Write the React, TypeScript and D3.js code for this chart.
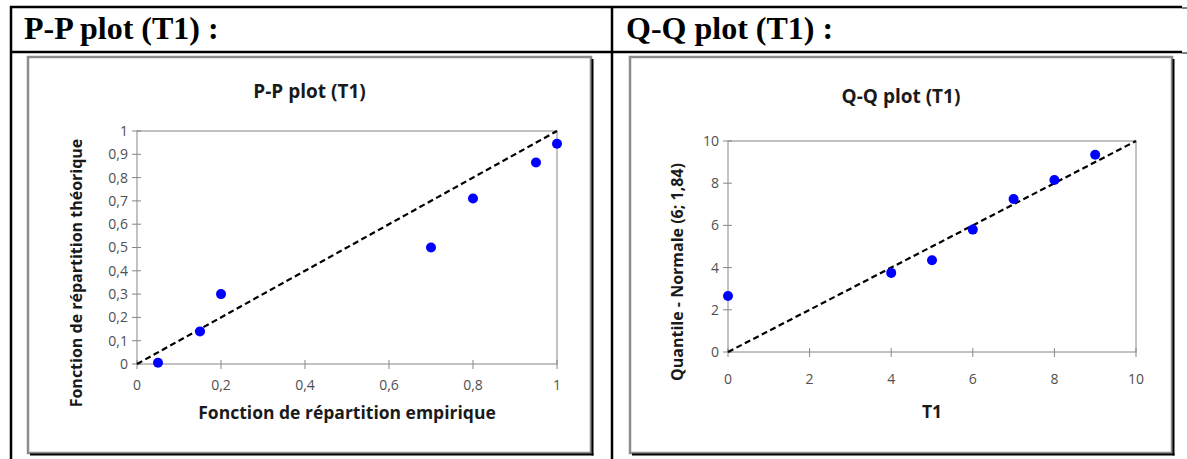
import * as d3 from "d3";
import React from "react";

// P-P plot: empirical vs theoretical cdf
const ppEmpirical = [0.05, 0.15, 0.2, 0.7, 0.8, 0.95, 1.0];
const ppTheoretical = [0.005, 0.14, 0.3, 0.5, 0.71, 0.865, 0.945];
const ppXTicks = [0, 0.2, 0.4, 0.6, 0.8, 1];
const ppYTicks = [0, 0.1, 0.2, 0.3, 0.4, 0.5, 0.6, 0.7, 0.8, 0.9, 1];

// Q-Q plot: T1 vs quantile of Normal(6; 1,84)
const qqObserved = [0, 4, 5, 6, 7, 8, 9];
const qqNormal = [2.65, 3.75, 4.35, 5.8, 7.25, 8.15, 9.35];
const qqXTicks = [0, 2, 4, 6, 8, 10];
const qqYTicks = [0, 2, 4, 6, 8, 10];

const W = 1187;
const H = 459;
const chartFont = "'Open Sans', 'Noto Sans', sans-serif";
const axisGray = "#868686";
const fmt = (v: number) => String(v).replace(".", ",");

interface PanelProps {
  frame: { x: number; y: number; w: number; h: number };
  plot: { left: number; right: number; top: number; bottom: number };
  title: string;
  titleY: number;
  xTitle: string;
  yTitle: string;
  yTitleX: number;
  yTitleY: number;
  xLabelY: number;
  xTitleY: number;
  domain: [number, number];
  xTicks: number[];
  yTicks: number[];
  xs: number[];
  ys: number[];
}

const Panel: React.FC<PanelProps> = (p) => {
  const x = d3.scaleLinear().domain(p.domain).range([p.plot.left, p.plot.right]);
  const y = d3.scaleLinear().domain(p.domain).range([p.plot.bottom, p.plot.top]);
  const line = d3.line<number>().x((d) => x(d)).y((d) => y(d));
  const cx = (p.plot.left + p.plot.right) / 2;
  const f = p.frame;

  return (
    <g>
      {/* chart frame with shadow */}
      <rect x={f.x} y={f.y} width={f.w} height={f.h} fill="#fff" stroke="#8c8c8c" strokeWidth={2.5} />
      <line x1={f.x + f.w + 1.5} y1={f.y + 2} x2={f.x + f.w + 1.5} y2={f.y + f.h + 2.5} stroke="#000" strokeWidth={2} />
      <line x1={f.x + 2} y1={f.y + f.h + 1.5} x2={f.x + f.w + 2.5} y2={f.y + f.h + 1.5} stroke="#000" strokeWidth={2} />

      <text x={f.x + f.w / 2} y={p.titleY} textAnchor="middle" fontFamily={chartFont} fontWeight="bold" fontSize={19} fill="#1a1a1a">
        {p.title}
      </text>

      {/* plot area border */}
      <rect x={p.plot.left} y={p.plot.top} width={p.plot.right - p.plot.left} height={p.plot.bottom - p.plot.top} fill="none" stroke={axisGray} strokeWidth={1} />

      {p.yTicks.map((t) => (
        <g key={"y" + t}>
          <line x1={p.plot.left - 5} x2={p.plot.left + 4} y1={y(t)} y2={y(t)} stroke={axisGray} />
          <text x={p.plot.left - 9} y={y(t)} dy="0.35em" textAnchor="end" fontFamily={chartFont} fontSize={14} fill="#505050">
            {fmt(t)}
          </text>
        </g>
      ))}
      {p.xTicks.map((t) => (
        <g key={"x" + t}>
          <line x1={x(t)} x2={x(t)} y1={p.plot.bottom - 4} y2={p.plot.bottom + 5} stroke={axisGray} />
          <text x={x(t)} y={p.xLabelY} dy="0.35em" textAnchor="middle" fontFamily={chartFont} fontSize={14} fill="#505050">
            {fmt(t)}
          </text>
        </g>
      ))}

      <path d={line(p.domain) ?? ""} fill="none" stroke="#000" strokeWidth={2.2} strokeDasharray="6,3.5" />

      {p.xs.map((v, i) => (
        <circle key={i} cx={x(v)} cy={y(p.ys[i])} r={5} fill="#0000ff" />
      ))}

      <text x={cx} y={p.xTitleY} dy="0.35em" textAnchor="middle" fontFamily={chartFont} fontWeight="bold" fontSize={17.5} fill="#1a1a1a">
        {p.xTitle}
      </text>
      <text
        transform={`translate(${p.yTitleX},${p.yTitleY}) rotate(-90)`}
        textAnchor="middle"
        fontFamily={chartFont}
        fontWeight="bold"
        fontSize={16}
        fill="#1a1a1a"
      >
        {p.yTitle}
      </text>
    </g>
  );
};

const App: React.FC = () => {
  const headFont = "'Liberation Serif', 'Times New Roman', serif";
  return (
    <svg width={W} height={H} style={{ position: "absolute", left: 0, top: 0, background: "#fff" }}>
      {/* table grid */}
      <line x1={10} y1={7} x2={1182} y2={7} stroke="#000" strokeWidth={2.5} />
      <line x1={1182} y1={8} x2={W} y2={8} stroke="#000" strokeWidth={1} />
      <line x1={10} y1={52} x2={1182} y2={52} stroke="#000" strokeWidth={2.5} />
      <line x1={1182} y1={53} x2={W} y2={53} stroke="#000" strokeWidth={1} />
      <line x1={11} y1={6} x2={11} y2={H} stroke="#000" strokeWidth={2.5} />
      <line x1={612} y1={6} x2={612} y2={H} stroke="#000" strokeWidth={2.5} />

      <text x={24} y={39} fontFamily={headFont} fontWeight="bold" fontSize={32} fill="#000">
        P-P plot (T1) :
      </text>
      <text x={626} y={39} fontFamily={headFont} fontWeight="bold" fontSize={32} fill="#000">
        Q-Q plot (T1) :
      </text>

      <Panel
        frame={{ x: 28, y: 57, w: 563, h: 396 }}
        plot={{ left: 137, right: 557, top: 131, bottom: 364 }}
        title="P-P plot (T1)"
        titleY={98}
        xTitle="Fonction de répartition empirique"
        yTitle="Fonction de répartition théorique"
        yTitleX={82}
        yTitleY={273}
        xLabelY={385}
        xTitleY={413}
        domain={[0, 1]}
        xTicks={ppXTicks}
        yTicks={ppYTicks}
        xs={ppEmpirical}
        ys={ppTheoretical}
      />
      <Panel
        frame={{ x: 630, y: 57, w: 542, h: 396 }}
        plot={{ left: 728, right: 1136, top: 141, bottom: 352 }}
        title="Q-Q plot (T1)"
        titleY={103}
        xTitle="T1"
        yTitle="Quantile - Normale (6; 1,84)"
        yTitleX={683}
        yTitleY={272}
        xLabelY={379}
        xTitleY={412}
        domain={[0, 10]}
        xTicks={qqXTicks}
        yTicks={qqYTicks}
        xs={qqObserved}
        ys={qqNormal}
      />
    </svg>
  );
};

export default App;
